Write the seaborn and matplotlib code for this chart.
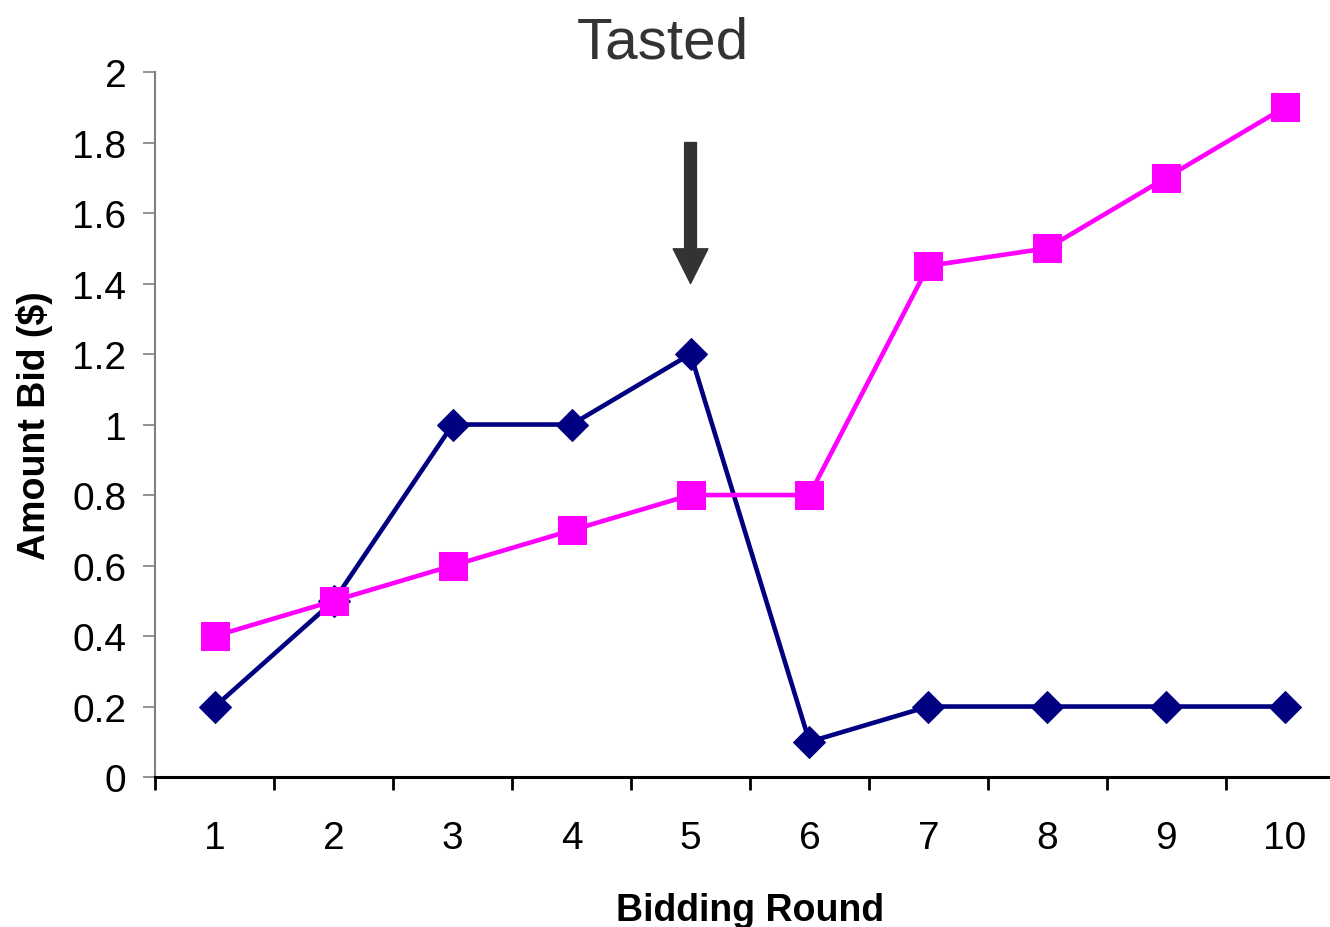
import numpy as np
import pandas as pd
import matplotlib.pyplot as plt
import matplotlib.ticker as mticker
import seaborn as sns

# Data
rounds = [1, 2, 3, 4, 5, 6, 7, 8, 9, 10]
navy_bids = [0.2, 0.5, 1.0, 1.0, 1.2, 0.1, 0.2, 0.2, 0.2, 0.2]
pink_bids = [0.4, 0.5, 0.6, 0.7, 0.8, 0.8, 1.45, 1.5, 1.7, 1.9]
y_ticks = [0, 0.2, 0.4, 0.6, 0.8, 1.0, 1.2, 1.4, 1.6, 1.8, 2.0]

sns.set_style("white")
plt.rcParams["font.family"] = ["Liberation Sans", "DejaVu Sans"]
plt.rcParams["text.color"] = "black"
plt.rcParams["axes.labelcolor"] = "black"
plt.rcParams["xtick.color"] = "black"
plt.rcParams["ytick.color"] = "black"

fig = plt.figure(figsize=(13.3, 9.28), dpi=100)
ax = fig.add_axes([0.1169, 0.1616, 0.894, 0.7597])

sns.lineplot(x=rounds, y=navy_bids, ax=ax, color="#000080", linewidth=3.3,
             marker="D", markersize=16, markeredgecolor="#000080")
sns.lineplot(x=rounds, y=pink_bids, ax=ax, color="#FF00FF", linewidth=3.3,
             marker="s", markersize=20, markeredgecolor="#FF00FF")

ax.set_xlim(0.5, 10.5)
ax.set_ylim(0, 2)

# y axis: gray spine, outward ticks
ax.set_yticks(y_ticks)
ax.yaxis.set_major_formatter(mticker.FormatStrFormatter("%g"))
ax.tick_params(axis="y", direction="out", length=9, width=1.2, color="#808080",
               labelcolor="black", labelsize=28, pad=12, left=True)
ax.spines["left"].set_color("#808080")
ax.spines["left"].set_linewidth(1.5)

# x axis: labels centred, ticks between categories
ax.set_xticks(rounds)
ax.set_xticks(np.arange(0.5, 11, 1), minor=True)
ax.tick_params(axis="x", which="major", length=0, labelsize=28, pad=31,
               labelcolor="black")
ax.tick_params(axis="x", which="minor", direction="out", length=9, width=2,
               color="black", bottom=True)
ax.spines["bottom"].set_color("black")
ax.spines["bottom"].set_linewidth(2.2)
ax.spines["top"].set_visible(False)
ax.spines["right"].set_visible(False)

ax.set_xlabel("Bidding Round", fontsize=27, fontweight="bold", labelpad=26, color="black")
ax.set_ylabel("Amount Bid ($)", fontsize=27, fontweight="bold", labelpad=14, color="black")

fig.text(0.4985, 0.953, "Tasted", ha="center", va="center", fontsize=42, color="#333333")

# arrow marking the tasting point
ax.annotate("", xy=(5, 1.4), xytext=(5, 1.8),
            arrowprops=dict(width=8.5, headwidth=25, headlength=25, shrink=0,
                            facecolor="#333333", edgecolor="#333333"))

fig.savefig("out.png", dpi=100)
